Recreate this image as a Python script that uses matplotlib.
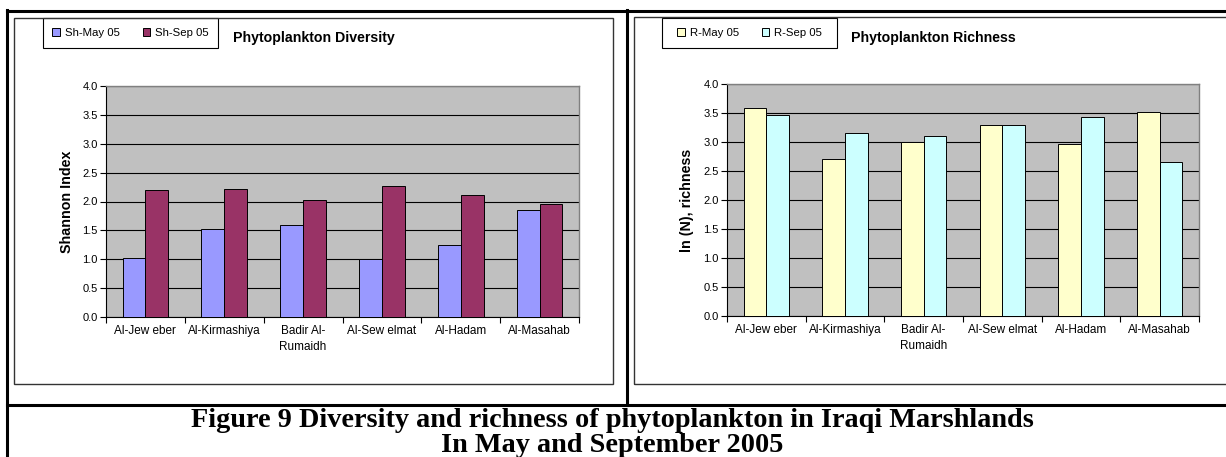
import numpy as np
import matplotlib.pyplot as plt
from matplotlib.patches import Rectangle
from matplotlib.lines import Line2D

# stations and values
stations = ["Al-Jew eber", "Al-Kirmashiya", "Badir Al-\nRumaidh",
            "Al-Sew elmat", "Al-Hadam", "Al-Masahab"]
sh_may = [1.02, 1.52, 1.60, 1.00, 1.25, 1.86]
sh_sep = [2.20, 2.22, 2.03, 2.26, 2.11, 1.96]
r_may = [3.58, 2.70, 3.00, 3.30, 2.97, 3.51]
r_sep = [3.47, 3.15, 3.10, 3.30, 3.43, 2.65]
yticks = [0.0, 0.5, 1.0, 1.5, 2.0, 2.5, 3.0, 3.5, 4.0]

W, H = 1226, 457
plt.rcParams['font.family'] = ['Liberation Sans', 'DejaVu Sans']
fig = plt.figure(figsize=(W / 100, H / 100), dpi=100)
fig.patch.set_facecolor("white")


def px_box(x0, y0, x1, y1):
    # pixel box (top-left origin) -> figure fraction rect
    return [x0 / W, 1 - y1 / H, (x1 - x0) / W, (y1 - y0) / H]


def hline(x0, x1, y, lw, color="black"):
    fig.add_artist(Line2D([x0 / W, x1 / W], [1 - y / H, 1 - y / H],
                          lw=lw, color=color, transform=fig.transFigure))


def vline(x, y0, y1, lw, color="black"):
    fig.add_artist(Line2D([x / W, x / W], [1 - y0 / H, 1 - y1 / H],
                          lw=lw, color=color, transform=fig.transFigure))


def rect(x0, y0, x1, y1, lw, color="black"):
    fig.add_artist(Rectangle((x0 / W, 1 - y1 / H), (x1 - x0) / W, (y1 - y0) / H,
                             fill=False, lw=lw, edgecolor=color,
                             transform=fig.transFigure))


def bar_chart(box, a, b, colors, labels, ylab, ylab_x, title, title_xy, leg_box):
    ax = fig.add_axes(px_box(*box))
    x = np.arange(len(stations))
    w = 0.29
    b1 = ax.bar(x - w / 2, a, w, color=colors[0], edgecolor="black", lw=0.7,
                label=labels[0], zorder=3)
    b2 = ax.bar(x + w / 2, b, w, color=colors[1], edgecolor="black", lw=0.7,
                label=labels[1], zorder=3)
    ax.set_facecolor("#C0C0C0")
    ax.set_xlim(-0.5, len(stations) - 0.5)
    ax.set_ylim(0, 4)
    ax.set_yticks(yticks)
    ax.set_yticklabels([f"{v:.1f}" for v in yticks])
    ax.yaxis.grid(True, color="black", lw=0.8)
    ax.set_axisbelow(True)
    ax.set_xticks(x)
    ax.set_xticklabels(stations, linespacing=1.45)
    ax.set_xticks(np.arange(-0.5, len(stations)), minor=True)
    ax.tick_params(axis="x", which="major", length=0, pad=6, labelsize=8.5)
    ax.tick_params(axis="x", which="minor", length=4, width=0.8, direction="out")
    ax.tick_params(axis="y", length=4, width=0.8, direction="out", pad=2,
                   labelsize=8)
    for s in ("top", "right"):
        ax.spines[s].set_color("#808080")
        ax.spines[s].set_linewidth(1.0)
    for s in ("left", "bottom"):
        ax.spines[s].set_color("black")
        ax.spines[s].set_linewidth(0.8)
    ax.set_ylabel(ylab, fontsize=10.3, fontweight="bold")
    ax.yaxis.set_label_coords(ylab_x, 0.5)
    fig.text(title_xy[0] / W, 1 - title_xy[1] / H, title, fontsize=10.2,
             fontweight="bold", ha="left", va="center")
    # legend box
    x0, y0, x1, y1 = leg_box
    rect(x0, y0, x1, y1, 0.8)
    fig.legend([b1, b2], labels, ncol=2, frameon=False, fontsize=8.2,
               loc="center", bbox_to_anchor=((x0 + x1) / 2 / W, 1 - (y0 + y1) / 2 / H),
               handlelength=0.7, handleheight=0.7, handletextpad=0.4,
               columnspacing=2.0, borderpad=0)
    return ax


bar_chart((106, 86, 579, 317), sh_may, sh_sep, ["#9999FF", "#993366"],
          ["Sh-May 05", "Sh-Sep 05"], "Shannon Index", -0.068,
          "Phytoplankton Diversity", (233, 38), (43, 18, 218, 48))
bar_chart((727, 84, 1199, 316), r_may, r_sep, ["#FFFFCC", "#CCFFFF"],
          ["R-May 05", "R-Sep 05"], "ln (N), richness", -0.07,
          "Phytoplankton Richness", (851, 38), (662, 18, 837, 48))

# chart frames
rect(14, 18, 613, 384, 1.0, "#333333")
rect(634, 17, 1240, 384, 1.0, "#333333")

# table borders
hline(7, W, 11, 2.2)
vline(7, 10, H, 2.2)
vline(627, 10, 405, 2.2)
hline(7, W, 405, 2.2)

fig.text(612 / W, 1 - 427 / H,
         "Figure 9 Diversity and richness of phytoplankton in Iraqi Marshlands",
         family="Liberation Serif", fontweight="bold", fontsize=20.3,
         ha="center", va="baseline")
fig.text(612 / W, 1 - 452 / H, "In May and September 2005",
         family="Liberation Serif", fontweight="bold", fontsize=20.3,
         ha="center", va="baseline")

fig.savefig("out.png", dpi=100)
